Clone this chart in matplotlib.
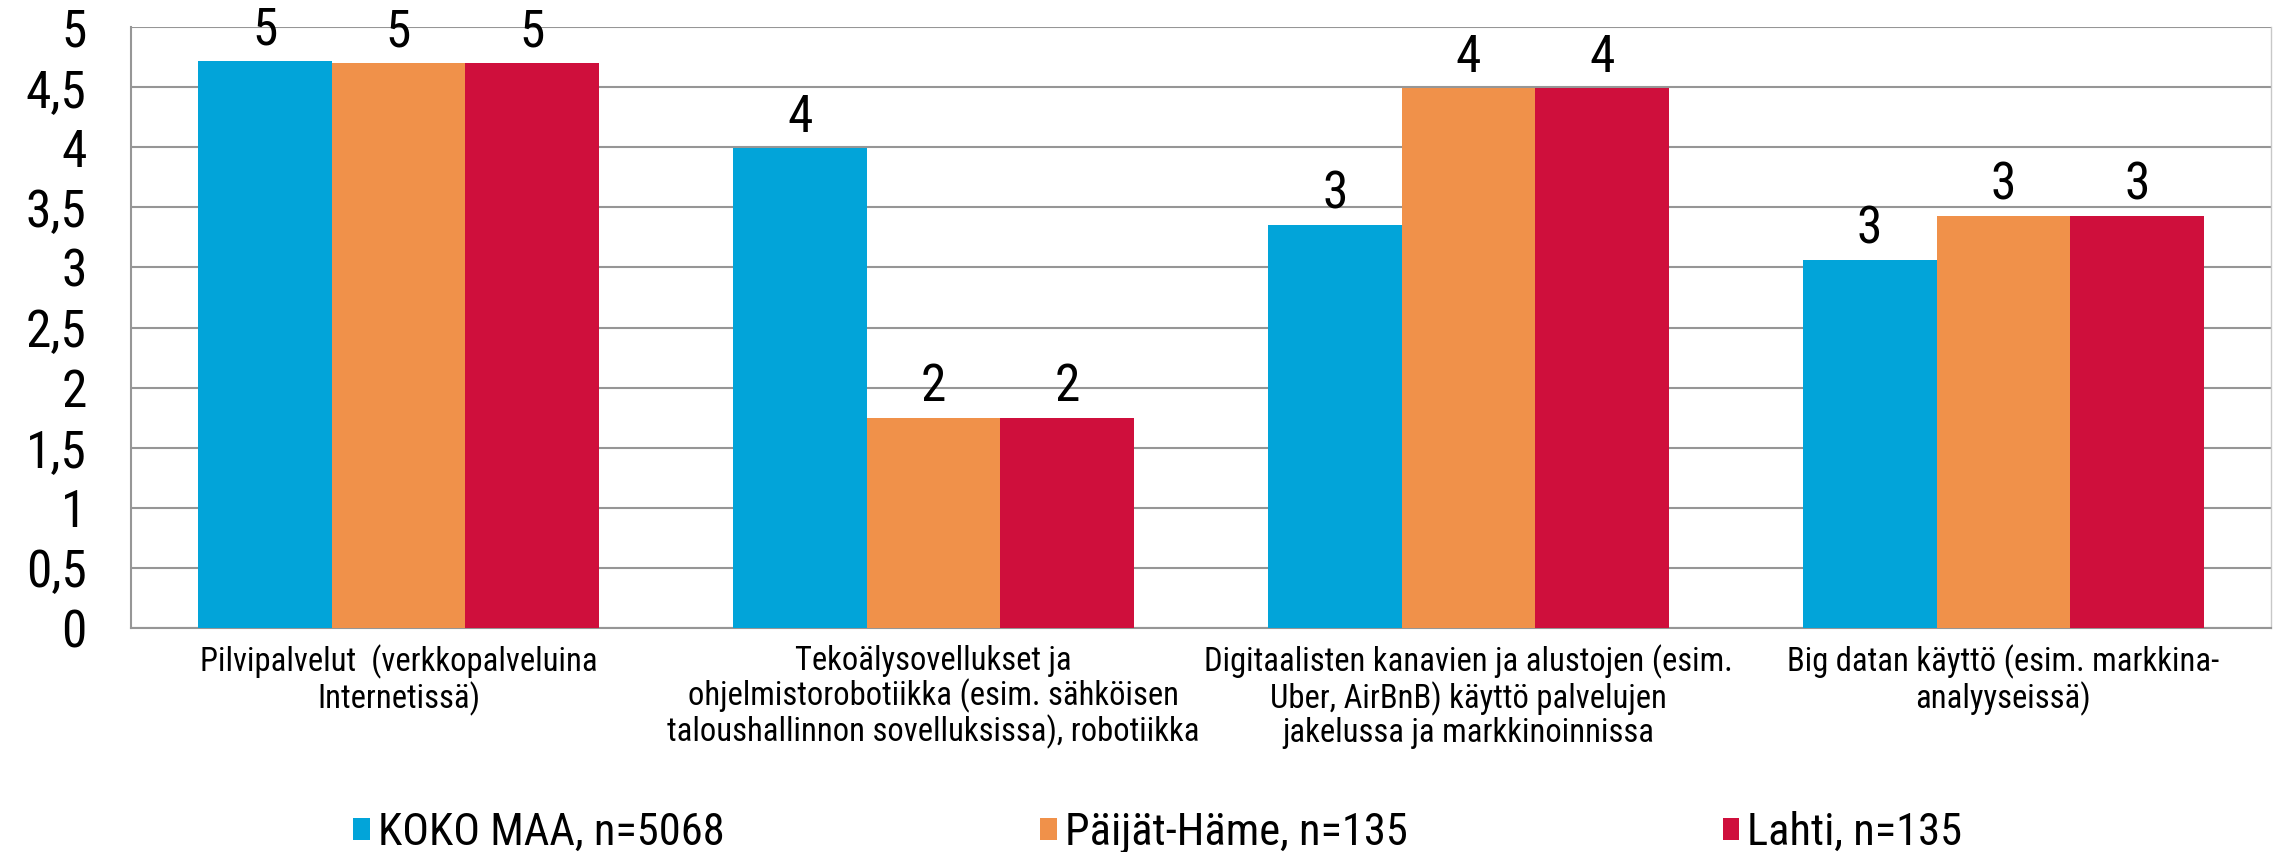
import numpy as np
import matplotlib
matplotlib.use("Agg")
import matplotlib.pyplot as plt
from matplotlib.patches import Patch

plt.rcParams['font.family'] = ['Roboto Condensed', 'Liberation Sans', 'DejaVu Sans']

# data
categories = [
    "Pilvipalvelut  (verkkopalveluina\nInternetissä)",
    "Tekoälysovellukset ja\nohjelmistorobotiikka (esim. sähköisen\ntaloushallinnon sovelluksissa), robotiikka",
    "Digitaalisten kanavien ja alustojen (esim.\nUber, AirBnB) käyttö palvelujen\njakelussa ja markkinoinnissa",
    "Big datan käyttö (esim. markkina-\nanalyyseissä)",
]
series_names = ["KOKO MAA, n=5068", "Päijät-Häme, n=135", "Lahti, n=135"]
koko_maa = [4.72, 3.99, 3.35, 3.06]
paijat_hame = [4.70, 1.75, 4.49, 3.43]
lahti = [4.70, 1.75, 4.49, 3.43]
y_ticks = [0, 0.5, 1, 1.5, 2, 2.5, 3, 3.5, 4, 4.5, 5]

colors = ['#02A4D9', '#F0914A', '#CF0F3C']
grid_col = '#969696'

fig = plt.figure(figsize=(22.75, 8.52), dpi=100)
ax = fig.add_axes([0.0576, 0.2629, 0.9406, 0.7054])

x = np.arange(len(categories))
w = 0.25
for i, (vals, name) in enumerate(zip([koko_maa, paijat_hame, lahti], series_names)):
    bars = ax.bar(x + (i - 1) * w, vals, width=w, color=colors[i], label=name, zorder=3)
    ax.bar_label(bars, fmt='{:.0f}', padding=4, fontsize=37)

ax.set_xlim(-0.5, len(categories) - 0.5)
ax.set_ylim(0, 5)
ax.set_yticks(y_ticks)
ax.set_yticklabels([f"{t:g}".replace('.', ',') for t in y_ticks], fontsize=37)
ax.tick_params(axis='y', length=0, pad=32)

ax.set_xticks(x)
ax.set_xticklabels(categories, fontsize=23.5)
ax.tick_params(axis='x', length=0, pad=12)
for lbl in ax.get_xticklabels():
    lbl.set_linespacing(1.07)

ax.set_axisbelow(True)
ax.yaxis.grid(True, color=grid_col, linewidth=1.5)
for side in ['left', 'bottom']:
    ax.spines[side].set_color(grid_col)
    ax.spines[side].set_linewidth(1.5)
ax.spines['top'].set_visible(False)
ax.spines['right'].set_color('#c8c8c8')
ax.spines['right'].set_linewidth(1.0)

handles = [Patch(facecolor=c, edgecolor='none') for c in colors]
fig.legend(handles, series_names, loc='center', bbox_to_anchor=(0.509, 0.022),
           ncol=3, frameon=False, fontsize=32, handlelength=0.37, handleheight=0.39,
           handletextpad=0.18, columnspacing=7.1, borderpad=0, borderaxespad=0)

fig.savefig("out.png", dpi=100)
